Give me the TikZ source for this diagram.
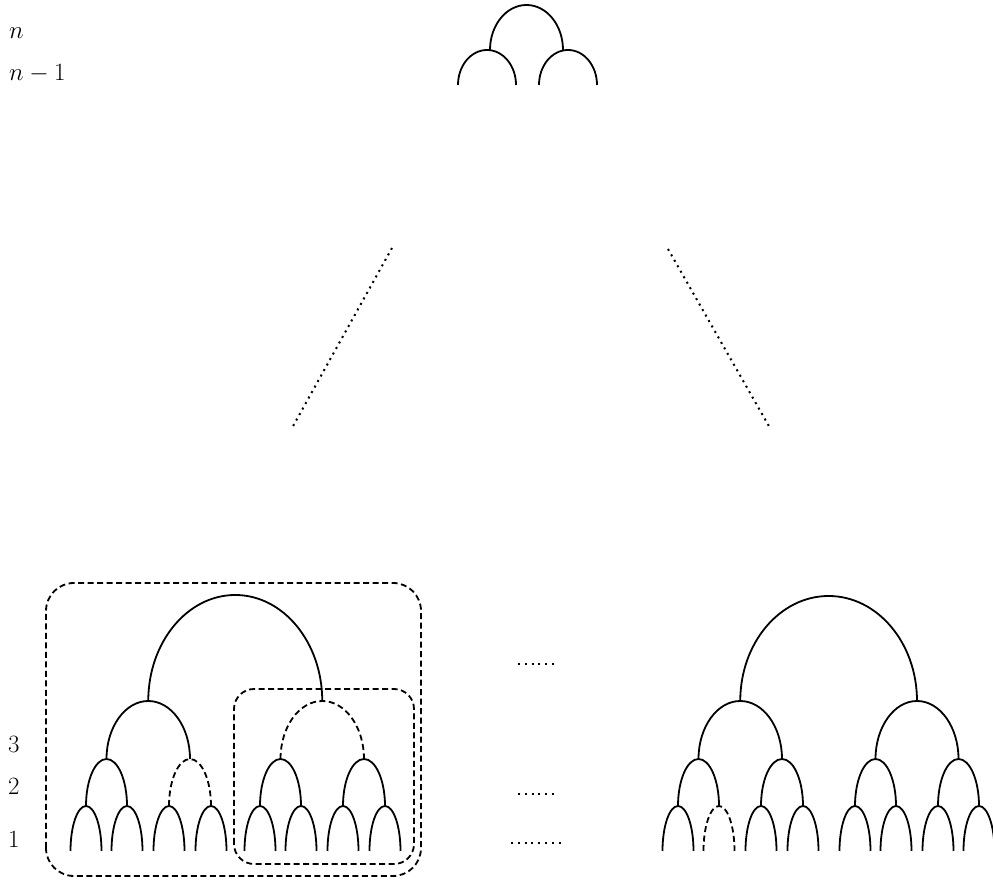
\documentclass[tikz,border=0pt]{standalone}
\tikzset{
  archline/.style={line width=1.8pt, line cap=butt},
  archdashed/.style={archline, dash pattern=on 6pt off 3.5pt},
  boxdashed/.style={line width=1.8pt, dash pattern=on 6pt off 3.5pt},
  dotline/.style={line width=2pt, dash pattern=on 2pt off 4.8pt},
  diagdots/.style={line width=2pt, dash pattern=on 2pt off 4.3pt},
  lbl/.style={anchor=base west, inner sep=0pt, font=\Huge}
}
\newcommand\ArchLR[5]{\draw[#5] (#1,#3) arc[start angle=180,end angle=0,x radius={((#2)-(#1))/2},y radius=#4];}
\newcommand\Leaf[2]{\ArchLR{#1-15.5}{#1+15.5}{31}{45}{#2}}
\begin{document}
\begin{tikzpicture}[x=1pt,y=1pt]
\useasboundingbox (0,0) rectangle (993,882);
% labels
\node[lbl] (ln)  at (9,843) {$n$};
\node[lbl] (lnm) at (9,801) {$n-1$};
\node[lbl] (l3)  at (8,129) {3};
\node[lbl] (l2)  at (8,87)  {2};
\node[lbl] (l1)  at (8,34)  {1};
% top tree
\ArchLR{458}{516}{797}{35}{archline}
\ArchLR{539}{597}{797}{35}{archline}
\ArchLR{490}{563}{832}{45}{archline}
% diagonal dotted lines
\coordinate (dl1) at (392,634);
\coordinate (dl2) at (292,454);
\coordinate (dr1) at (668,633);
\coordinate (dr2) at (770,454);
\draw[diagdots] (dl1) -- (dl2);
\draw[diagdots] (dr1) -- (dr2);
% left tree
\foreach \c in {86,127,169,211,260,301,343,385} {\Leaf{\c}{archline}}
\ArchLR{86}{127}{76}{47}{archline}
\ArchLR{169}{211}{76}{47}{archdashed}
\ArchLR{260}{301}{76}{47}{archline}
\ArchLR{343}{385}{76}{47}{archline}
\ArchLR{106.5}{190}{123}{58}{archline}
\ArchLR{280.5}{364}{123}{58}{archdashed}
\ArchLR{148.25}{322.25}{181}{106}{archline}
% dashed boxes
\draw[boxdashed, rounded corners=28pt] (46,6) rectangle (421,299);
\draw[boxdashed, rounded corners=20pt] (234,18) rectangle (414,193);
% middle dotted lines
\coordinate (m1a) at (518,218); \coordinate (m1b) at (555,218);
\coordinate (m2a) at (518,88);  \coordinate (m2b) at (555,88);
\coordinate (m3a) at (511,39);  \coordinate (m3b) at (561,39);
\draw[dotline] (m1a) -- (m1b);
\draw[dotline] (m2a) -- (m2b);
\draw[dotline] (m3a) -- (m3b);
% right tree
\Leaf{678}{archline}
\Leaf{719}{archdashed}
\foreach \c in {761,803,855,896,938,979} {\Leaf{\c}{archline}}
\ArchLR{678}{719}{76}{47}{archline}
\ArchLR{761}{803}{76}{47}{archline}
\ArchLR{855}{896}{76}{47}{archline}
\ArchLR{938}{979}{76}{47}{archline}
\ArchLR{698.5}{782}{123}{58}{archline}
\ArchLR{875.5}{958.5}{123}{58}{archline}
\ArchLR{740.25}{917}{181}{105}{archline}
\end{tikzpicture}
\end{document}
